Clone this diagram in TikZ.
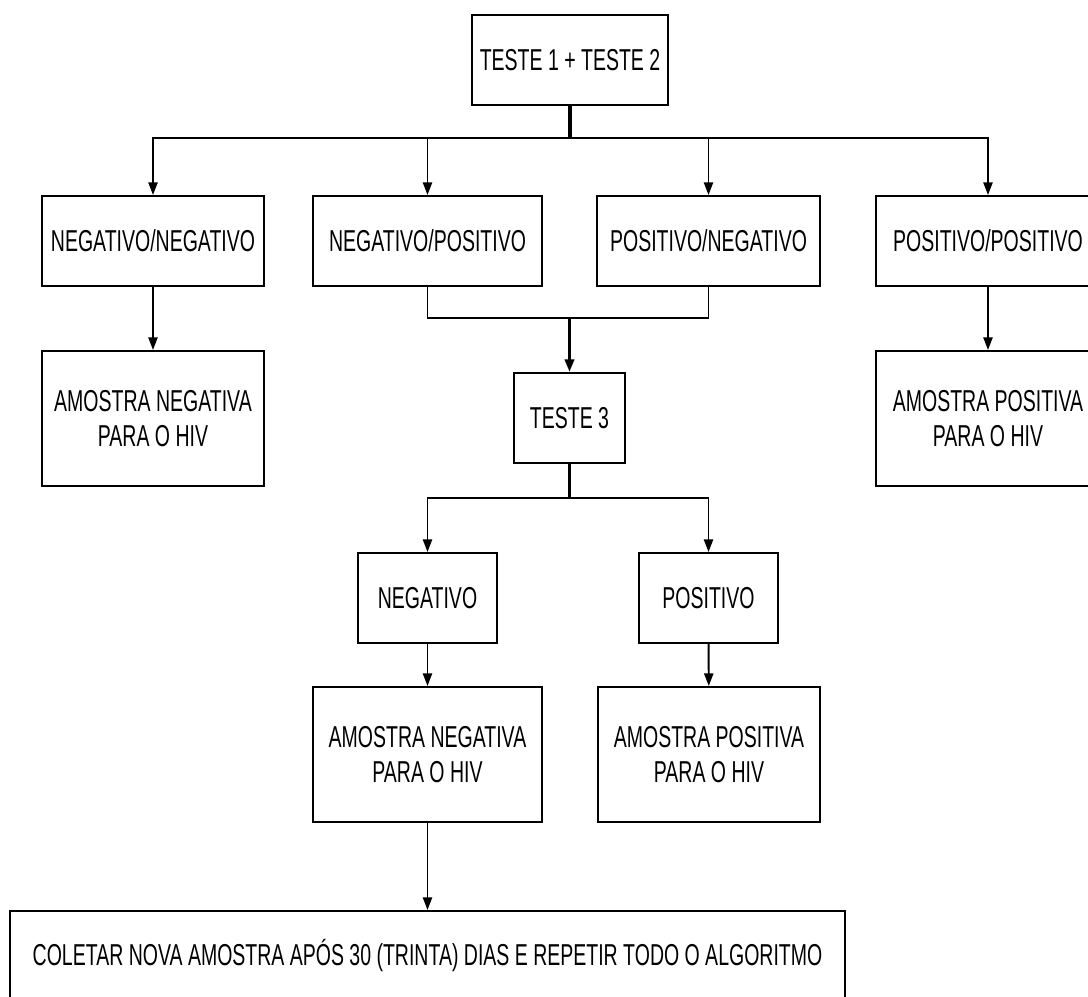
\documentclass[tikz,border=0pt]{standalone}
\usepackage{fontspec}
\setmainfont{Liberation Sans}[FakeStretch=0.645]
\usepackage{tikz}
\usetikzlibrary{arrows.meta}
\tikzset{
  bx/.style={draw,line width=1.4pt,align=center,inner sep=0pt,
    font=\fontsize{21.5pt}{25pt}\selectfont,minimum height=2.25cm},
  tall/.style={minimum height=3.375cm},
  ln/.style={line width=1.4pt},
  arr/.style={line width=1.4pt,-{Triangle[length=9pt,width=6.5pt]}},
  stem/.style={line width=2.3pt}
}

\begin{document}
\begin{tikzpicture}[x=0.025cm,y=-0.025cm]
\useasboundingbox[fill=white] (0,0) rectangle (1088,996);
\node[bx,minimum width=4.9cm] (t12) at (570,60) {TESTE 1 + TESTE 2};
\node[bx,minimum width=5.55cm] (nn) at (153,241) {NEGATIVO/NEGATIVO};
\node[bx,minimum width=5.725cm] (np) at (427.5,241) {NEGATIVO/POSITIVO};
\node[bx,minimum width=5.55cm] (pn) at (708.5,241) {POSITIVO/NEGATIVO};
\node[bx,minimum width=5.6cm] (pp) at (988,241) {POSITIVO/POSITIVO};
\node[bx,tall,minimum width=5.55cm] (ann) at (153,418.5) {AMOSTRA NEGATIVA\\PARA O HIV};
\node[bx,tall,minimum width=5.6cm] (app) at (988,418.5) {AMOSTRA POSITIVA\\PARA O HIV};
\node[bx,minimum width=2.775cm] (t3) at (569.5,418) {TESTE 3};
\node[bx,minimum width=3.475cm] (neg) at (427.5,598) {NEGATIVO};
\node[bx,minimum width=3.475cm] (pos) at (708.5,598) {POSITIVO};
\node[bx,tall,minimum width=5.725cm] (an2) at (427.5,754.5) {AMOSTRA NEGATIVA\\PARA O HIV};
\node[bx,tall,minimum width=5.55cm] (ap2) at (709,754.5) {AMOSTRA POSITIVA\\PARA O HIV};
\node[bx,minimum width=20.875cm] (col) at (427.5,956) {COLETAR NOVA AMOSTRA APÓS 30 (TRINTA) DIAS E REPETIR TODO O ALGORITMO};
% ramificacoes
\coordinate (bus) at (570,138);
\coordinate (mrg) at (569.5,318);
\coordinate (spl) at (569.5,498);
\draw[stem] (t12.south) -- (bus);
\draw[arr] (bus) -| (nn.north);
\draw[arr] (bus) -| (np.north);
\draw[arr] (bus) -| (pn.north);
\draw[arr] (bus) -| (pp.north);
\draw[arr] (nn) -- (ann);
\draw[arr] (pp) -- (app);
\draw[ln] (np.south) |- (mrg) -| (pn.south);
\draw[stem,-{Triangle[length=9pt,width=6.5pt]}] (mrg) -- (t3.north);
\draw[stem] (t3.south) -- (spl);
\draw[arr] (spl) -| (neg.north);
\draw[arr] (spl) -| (pos.north);
\draw[arr] (neg) -- (an2);
\draw[arr] (pos) -- (ap2);
\draw[arr] (an2.south) -- (an2.south |- col.north);
\end{tikzpicture}
\end{document}
